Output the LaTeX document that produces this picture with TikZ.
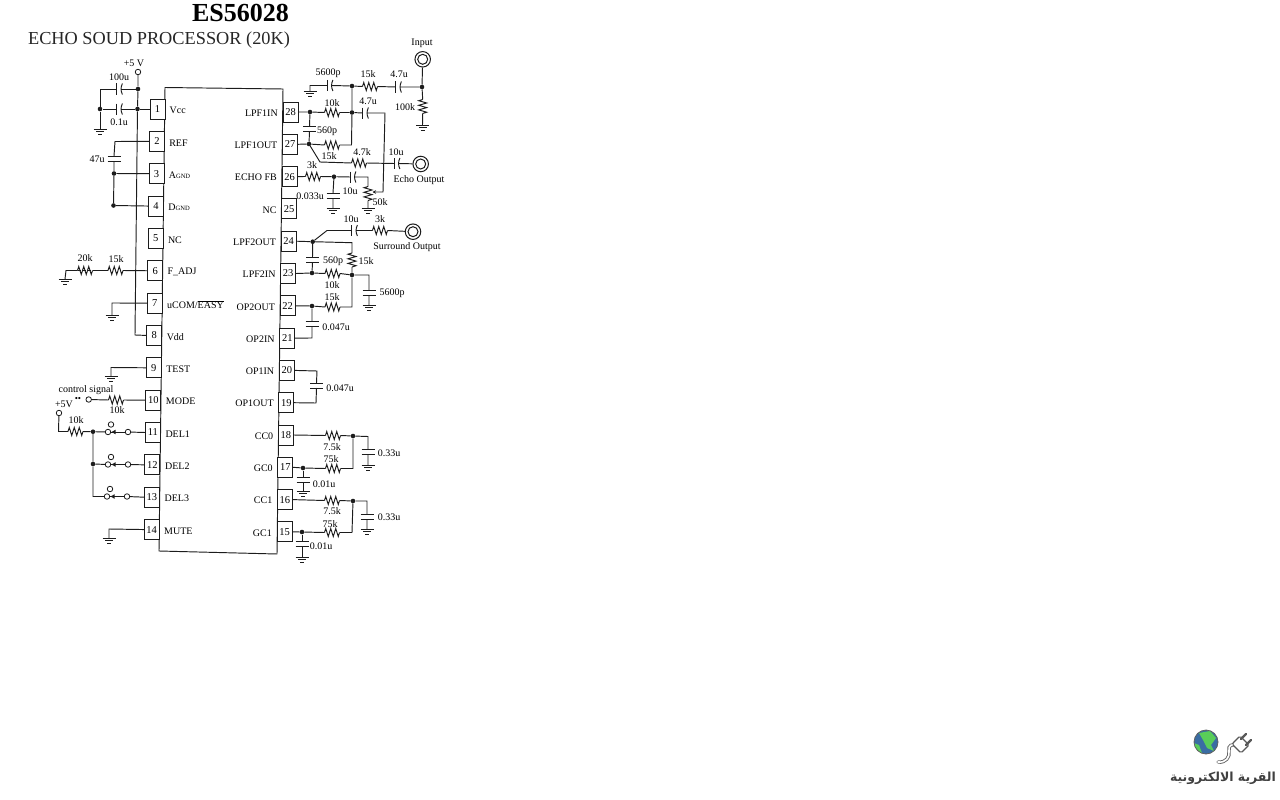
\documentclass[tikz,border=0pt]{standalone}
\usepackage{fontspec}
\setmainfont{Liberation Serif}
\newfontfamily\arabicfont[Script=Arabic]{DejaVu Sans}
\TeXXeTstate=1
\usetikzlibrary{arrows.meta}
\definecolor{ink}{HTML}{1c1c1c}
\tikzset{
  wire/.style={draw=ink,line width=0.95pt},
  pinbox/.style={draw=ink,line width=0.95pt,fill=white,minimum width=15pt,minimum height=20pt,inner sep=0pt,outer sep=0pt,text=black,font=\fontsize{10.5}{10.5}\selectfont},
  lbl/.style={inner sep=0pt,yshift=-0.5pt,text=black,font=\fontsize{10}{10}\selectfont},
  jdot/.style={circle,fill=ink,inner sep=0pt,minimum size=4.6pt},
  term/.style={circle,draw=ink,line width=0.8pt,fill=white,inner sep=0pt,minimum size=5.5pt},
  jack/.style={circle,draw=ink,line width=1pt,fill=white,inner sep=0pt,minimum size=15.5pt}
}
\newcommand\RH[3]{% name, centre x, y
  \coordinate (#1-l) at (#2-7.5,#3);\coordinate (#1-r) at (#2+7.5,#3);
  \draw[wire,line join=miter] (#1-l)--++(1.25,-4)--++(2.5,8)--++(2.5,-8)--++(2.5,8)--++(2.5,-8)--++(2.5,8)--(#1-r);}
\newcommand\RV[3]{% name, x, centre y
  \coordinate (#1-t) at (#2,#3-7);\coordinate (#1-b) at (#2,#3+7);
  \draw[wire] (#1-t)--++(-4,1.2)--++(8,2.3)--++(-8,2.3)--++(8,2.3)--++(-8,2.3)--++(8,2.3)--(#1-b);}
\newcommand\CH[3]{% name, centre x, y
  \coordinate (#1-l) at (#2-2.2,#3);\coordinate (#1-r) at (#2+2.2,#3);
  \draw[wire] (#2-2.2,#3-5.5)--(#2-2.2,#3+5.5);
  \draw[wire] (#2+3.4,#3-5.5) to[bend right=25] (#2+3.4,#3+5.5);}
\newcommand\CV[3]{% name, x, centre y
  \coordinate (#1-t) at (#2,#3-2.5);\coordinate (#1-b) at (#2,#3+2.5);
  \draw[wire] (#2-6.5,#3-2.5)--(#2+6.5,#3-2.5);
  \draw[wire] (#2-6.5,#3+2.5)--(#2+6.5,#3+2.5);}
\newcommand\GND[3]{% name, x, y
  \coordinate (#1) at (#2,#3);
  \draw[wire] (#2-6.5,#3)--(#2+6.5,#3);
  \draw[wire] (#2-4,#3+2.5)--(#2+4,#3+2.5);
  \draw[wire] (#2-2,#3+5)--(#2+2,#3+5);}
\newcommand\SW[3]{% name, left terminal x, y
  \node[term] (#1-a) at (#2,#3) {};
  \node[term] (#1-t) at (#2+3,#3-7.5) {};
  \node[term] (#1-b) at (#2+20,#3) {};
  \draw[wire] (#1-a)--(#1-b);
  \fill[ink] (#2+3.6,#3)--(#2+7.6,#3-2.3)--(#2+7.6,#3+2.3)--cycle;}
\newcommand\AGND{A{\fontsize{6.5}{6.5}\selectfont GND}}
\newcommand\DGND{D{\fontsize{6.5}{6.5}\selectfont GND}}
\newcommand\UCOM{uCOM/$\overline{\mbox{EASY}}$}
\begin{document}
\begin{tikzpicture}[x=1pt,y=-1pt]
\useasboundingbox (0,0) rectangle (1280,800);
% titles
\node[inner sep=0pt,text=black,font=\fontsize{26}{26}\selectfont\bfseries] (title) at (240.5,13) {ES56028};
\node[inner sep=0pt,text=black!85,font=\fontsize{18.3}{18.3}\selectfont] (sub) at (159,40) {ECHO SOUD PROCESSOR (20K)};
% chip body
\draw[wire] (165,87.5)--(283,89)--(277,554)--(159,551)--cycle;
% left pins
\foreach \n/\t in {1/Vcc,2/REF,3/\AGND,4/\DGND,5/NC,6/F\_ADJ,7/\UCOM,8/Vdd,9/TEST,10/MODE,11/DEL1,12/DEL2,13/DEL3,14/MUTE}{
  \pgfmathsetmacro\py{109+32.35*(\n-1)}
  \pgfmathsetmacro\px{157.5-0.46*(\n-1)}
  \pgfmathsetmacro\lx{169.5-0.42*(\n-1)}
  \node[pinbox] (p\n) at (\px,\py) {\n};
  \node[lbl,anchor=west] (t\n) at (\lx,\py+1) {\t};
}
% right pins
\foreach \n/\t in {28/LPF1IN,27/LPF1OUT,26/ECHO FB,25/NC,24/LPF2OUT,23/LPF2IN,22/OP2OUT,21/OP2IN,20/OP1IN,19/OP1OUT,18/CC0,17/GC0,16/CC1,15/GC1}{
  \pgfmathsetmacro\py{112+32.3*(28-\n)}
  \pgfmathsetmacro\px{290.5-0.46*(28-\n)}
  \pgfmathsetmacro\lx{278-0.46*(28-\n)}
  \node[pinbox] (p\n) at (\px,\py) {\n};
  \node[lbl,anchor=east] (t\n) at (\lx,\py+0.5) {\t};
}
% +5V rail and decoupling
\node[lbl] (l5v) at (134,63) {+5 V};
\node[term] (v5) at (138,72) {};
\node[jdot] (jv1) at (138,89) {};
\node[jdot] (jv2) at (137.5,109) {};
\node[jdot] (jg1) at (100,109) {};
\CH{c100}{119}{89}\CH{c01}{119}{109}
\GND{g1}{100}{129}
\draw[wire] (v5)--(jv1)--(jv2)--(135,335)--(p8.west);
\draw[wire] (jv1)--(c100-r) (c100-l)--(100,89)--(jg1)--(g1);
\draw[wire] (jv2)--(c01-r) (c01-l)--(jg1);
\draw[wire] (jv2)--(p1.west);
\node[lbl] at (119,77) {100u};
\node[lbl] at (119,122) {0.1u};
% REF
\CV{c47}{114}{158.5}
\node[jdot] (j3) at (114,173.5) {};
\node[jdot] (j4) at (113.5,205.5) {};
\draw[wire] (p2.west)--(115,141.5)--(c47-t) (c47-b)--(j3)--(j4);
\draw[wire] (j3)--(p3.west) (j4)--(p4.west);
\node[lbl] at (97,158.7) {47u};
% F_ADJ
\RH{r15a}{115.5}{270.5}\RH{r20}{85}{270.5}
\GND{g6}{65}{279}
\draw[wire] (p6.west)--(r15a-r) (r15a-l)--(r20-r) (r20-l)--(66,270.5)--(g6);
\draw[wire,densely dashed] (r20-l)--(r20-r);
\node[lbl] at (116,259) {15k};
\node[lbl] at (85,258) {20k};
% pin 7, 9, 14 grounds
\GND{g7}{112}{315}\GND{g9}{111}{376}\GND{g14}{109}{538}
\draw[wire] (p7.west)--(112,303)--(g7);
\draw[wire] (p9.west)--(111,367.5)--(g9);
\draw[wire] (p14.west)--(109,529)--(g14);
% MODE
\node[term] (tm) at (88.7,399.5) {};
\RH{r10m}{116}{400}
\draw[wire] (tm)--(r10m-l) (r10m-r)--(p10.west);
\node[lbl] at (86,390) {control signal};
\node[lbl,font=\fontsize{9}{9}\selectfont] at (78,398.5) {••};
\node[lbl] at (117,410) {10k};
% DEL switches
\node[lbl] at (64,404) {+5V};
\node[term] (t5) at (59,413) {};
\RH{r10d}{75.5}{431.5}
\node[jdot] (j11) at (93,431.7) {};
\node[jdot] (j12) at (93,464) {};
\SW{s1}{108}{432}\SW{s2}{108}{464.5}\SW{s3}{107}{496.5}
\draw[wire] (t5)--(58.5,431.5)--(r10d-l) (r10d-r)--(j11)--(s1-a);
\draw[wire] (j11)--(j12)--(93,496.5)--(s3-a) (j12)--(s2-a);
\draw[wire] (s1-b)--(p11.west) (s2-b)--(p12.west) (s3-b)--(p13.west);
\node[lbl] at (76,420) {10k};
% Input network
\node[lbl] at (422,43) {Input};
\node[jack] (jin) at (422.7,59.3) {};
\draw[ink,line width=1pt] (jin.center) circle (5pt);
\node[jdot] (ji) at (422,87) {};
\RV{r100}{422.7}{106.5}
\GND{g100}{422.5}{125}
\draw[wire] (jin)--(ji)--(r100-t) (r100-b)--(g100);
\node[lbl] at (405,107) {100k};
\GND{g56}{310}{91}
\CH{c56}{329.5}{85.5}
\node[jdot] (j1) at (352,86) {};
\RH{r15i}{370}{86.5}
\CH{c47i}{398}{87}
\draw[wire] (g56)--(310,85.5)--(c56-l) (c56-r)--(j1)--(r15i-l) (r15i-r)--(c47i-l) (c47i-r)--(ji);
\node[lbl] at (328,73) {5600p};
\node[lbl] at (368,74) {15k};
\node[lbl] at (399,74) {4.7u};
% LPF1
\node[jdot] (j28) at (310,112) {};
\node[jdot] (j27) at (309,144) {};
\node[jdot] (j2) at (352,112.5) {};
\RH{r10a}{332}{112.5}\RH{r15b}{332}{145}\CH{c47b}{365}{113}\CV{c560a}{309.5}{129}
\draw[wire] (p28.east)--(j28)--(r10a-l) (r10a-r)--(j2)--(c47b-l);
\draw[wire] (j1)--(j2)--(351.5,145)--(r15b-r) (r15b-l)--(j27)--(p27.east);
\draw[wire] (j28)--(c560a-t) (c560a-b)--(j27);
\node[lbl] at (332,103) {10k};
\node[lbl] at (329,155.5) {15k};
\node[lbl] at (327,131) {560p};
\node[lbl] at (368,101) {4.7u};
% Echo output
\RH{r47}{359}{163}\CH{c10e}{396.5}{163.5}
\node[jack] (jecho) at (420.7,164) {};
\draw[ink,line width=1pt] (jecho.center) circle (5pt);
\draw[wire] (j27)--(320,162)--(r47-l) (r47-r)--(c10e-l) (c10e-r)--(jecho);
\node[lbl] at (362,152) {4.7k};
\node[lbl] at (396,152) {10u};
\node[lbl] at (419,179.7) {Echo Output};
% Echo FB
\RH{r3}{313}{176.5}
\node[jdot] (j26) at (334,176.7) {};
\CH{c10f}{352.5}{177}\RV{pot}{368}{193.5}\CV{c033}{333}{195.5}
\GND{g50}{368}{208}\GND{g33}{333}{208}
\draw[wire] (p26.east)--(r3-l) (r3-r)--(j26)--(c10f-l) (c10f-r)--(368,177)--(pot-t) (pot-b)--(g50);
\draw[wire] (j26)--(c033-t) (c033-b)--(g33);
\draw[wire,-{Stealth[length=3.5pt,width=3.5pt]}] (c47b-r)--(385,113)--(383,192)--(372.5,192);
\node[lbl] at (312,165) {3k};
\node[lbl] at (350,191) {10u};
\node[lbl] at (380,202) {50k};
\node[lbl] at (310,196) {0.033u};
% LPF2
\node[jdot] (j24) at (312.7,241.7) {};
\node[jdot] (j23) at (312,273) {};
\node[jdot] (j5) at (352,275) {};
\node[jdot] (j22) at (312,306) {};
\CH{c10s}{354}{230.5}\RH{r3s}{380}{230.5}
\node[jack] (jsur) at (413,231.7) {};
\draw[ink,line width=1pt] (jsur.center) circle (5pt);
\RV{r15s}{352}{260}\CV{c560b}{312.5}{260}\RH{r10b}{332.5}{273.5}\RH{r15c}{332.5}{307}
\CV{c56b}{369}{292.5}\CV{c047a}{312}{323.5}
\GND{g56b}{369}{305}
\draw[wire] (p24.east)--(j24)--(327,230.5)--(c10s-l) (c10s-r)--(r3s-l) (r3s-r)--(jsur);
\draw[wire] (j24)--(352,242.7)--(r15s-t) (r15s-b)--(j5);
\draw[wire] (j24)--(c560b-t) (c560b-b)--(j23);
\draw[wire] (p23.east)--(j23)--(r10b-l) (r10b-r)--(j5)--(369,275)--(c56b-t) (c56b-b)--(g56b);
\draw[wire] (j5)--(352,307)--(r15c-r) (r15c-l)--(j22)--(p22.east);
\draw[wire] (j22)--(c047a-t) (c047a-b)--(312,338)--(p21.east);
\node[lbl] at (351,219) {10u};
\node[lbl] at (380,219) {3k};
\node[lbl] at (407,247) {Surround Output};
\node[lbl] at (333,261) {560p};
\node[lbl] at (366,261) {15k};
\node[lbl] at (332,285) {10k};
\node[lbl] at (332,297) {15k};
\node[lbl] at (392,293) {5600p};
\node[lbl] at (336,327) {0.047u};
% OP1
\CV{c047b}{316.5}{385.5}
\draw[wire] (p20.east)--(317,371)--(c047b-t) (c047b-b)--(316,403)--(p19.east);
\node[lbl] at (340,388) {0.047u};
% CC0 / GC0
\RH{r75a}{333}{435.5}\RH{r75b}{333}{468.5}
\node[jdot] (j18) at (353,436) {};
\node[jdot] (j17) at (303,468) {};
\CV{c33a}{368}{452}\CV{c01a}{303}{480}
\GND{g33a}{368}{465}\GND{g01a}{303}{491}
\draw[wire] (p18.east)--(r75a-l) (r75a-r)--(j18)--(368,436.5)--(c33a-t) (c33a-b)--(g33a);
\draw[wire] (j18)--(353,468.5)--(r75b-r) (r75b-l)--(j17)--(p17.east);
\draw[wire] (j17)--(c01a-t) (c01a-b)--(g01a);
\node[lbl] at (332,447) {7.5k};
\node[lbl] at (331,459) {75k};
\node[lbl] at (389,453) {0.33u};
\node[lbl] at (324,484) {0.01u};
% CC1 / GC1
\RH{r75c}{332}{500.5}\RH{r75d}{332}{532.5}
\node[jdot] (j16) at (353,501) {};
\node[jdot] (j15) at (302,532) {};
\CV{c33b}{367}{516.5}\CV{c01b}{302}{544}
\GND{g33b}{367}{529}\GND{g01b}{302}{557}
\draw[wire] (p16.east)--(r75c-l) (r75c-r)--(j16)--(367,501)--(c33b-t) (c33b-b)--(g33b);
\draw[wire] (j16)--(352,532.5)--(r75d-r) (r75d-l)--(j15)--(p15.east);
\draw[wire] (j15)--(c01b-t) (c01b-b)--(g01b);
\node[lbl] at (332,511) {7.5k};
\node[lbl] at (330,524) {75k};
\node[lbl] at (389,517) {0.33u};
\node[lbl] at (321,546) {0.01u};
% logo: plug with cable, then globe
\draw[draw=gray!80!black,line width=3.4pt,line cap=round] (1218,762) .. controls (1226,763) and (1230,757) .. (1229,751) .. controls (1228,745) and (1232,744) .. (1237,745);
\draw[draw=white,line width=1.6pt,line cap=round] (1218,762) .. controls (1226,763) and (1230,757) .. (1229,751) .. controls (1228,745) and (1232,744) .. (1237,745);
\draw[draw=gray!70!black,line width=1.1pt,fill=white,rounded corners=1.5pt] (1232,744)--(1240,736)--(1249,745)--(1241,753)--cycle;
\draw[draw=gray!70!black,line width=2.2pt,line cap=round] (1241,739)--(1246,734) (1246,745)--(1251,740);
\fill[color=cyan!55!blue!75!black] (1206,742) circle (12);
\begin{scope}
  \clip (1206,742) circle (12);
  \fill[green!70!black!65] (1199,733)--(1210,731)--(1216,738)--(1211,745)--(1214,751)--(1207,748)--(1203,740)--cycle;
  \fill[green!70!black!65] (1194,743)--(1199,745)--(1202,753)--(1196,752)--cycle;
\end{scope}
\draw[gray!75!black,line width=0.8pt] (1206,742) circle (12);
\node[inner sep=0pt,text=black!75,font=\arabicfont\bfseries\fontsize{12.5}{12.5}\selectfont] (logo) at (1223,778) {\beginR القرية الالكترونية\endR};
\end{tikzpicture}
\end{document}
